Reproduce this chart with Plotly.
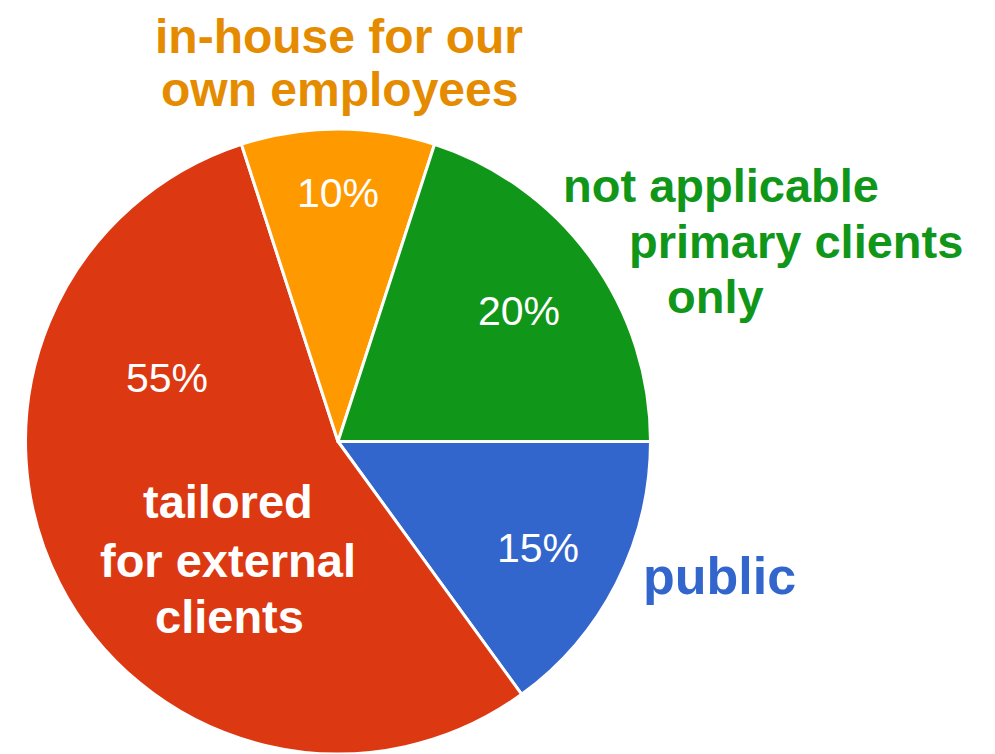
import plotly.graph_objects as go

# Data (clockwise from 3 o'clock)
categories = ["public", "tailored for external clients", "in-house for our own employees",
              "not applicable primary clients only"]
shares = [15, 55, 10, 20]
slice_colors = ["#3366CC", "#DC3912", "#FF9900", "#109618"]

# Label lines shown on the chart
label_lines = {
    "public": ["public"],
    "tailored": ["tailored", "for external", "clients"],
    "inhouse": ["in-house for our", "own employees"],
    "na": ["not applicable", "primary clients", "only"],
}

OFF = 8  # page body margin
W, H = 995 - OFF, 754 - OFF
FONT = "Liberation Sans, Arial, sans-serif"

cx, cy, r = 338 - OFF, 442 - OFF, 313
fig = go.Figure(go.Pie(
    labels=categories,
    values=shares,
    sort=False,
    direction="clockwise",
    rotation=90,
    marker=dict(colors=slice_colors, line=dict(color="white", width=3)),
    textinfo="none",
    hoverinfo="label+percent",
    showlegend=False,
    domain=dict(x=[(cx - r) / W, (cx + r) / W], y=[0, (H - (cy - r)) / H]),
))


def px_ann(text, x, y, size, color, bold=False):
    fig.add_annotation(
        x=(x - OFF) / W, y=1 - (y - OFF) / H, xref="paper", yref="paper",
        xanchor="center", yanchor="middle", showarrow=False,
        borderpad=0,
        text=f"<b>{text}</b>" if bold else text,
        font=dict(family=FONT, size=size, color=color),
    )


# percentage labels (text from data)
pct_pos = [(538, 548), (167, 378), (338, 193), (519, 311)]
total = sum(shares)
for v, (x, y) in zip(shares, pct_pos):
    px_ann(f"{round(100 * v / total)}%", x, y, 41, "white")

# category labels
for t, (x, y) in zip(label_lines["inhouse"], [(339, 36), (339, 90)]):
    px_ann(t, x, y, 48, "#E58B00", bold=True)
for t, (x, y) in zip(label_lines["na"], [(721, 185), (796, 241), (715, 296)]):
    px_ann(t, x, y, 47, "#109618", bold=True)
for t, (x, y) in zip(label_lines["public"], [(719, 576)]):
    px_ann(t, x, y, 52, "#3366CC", bold=True)
for t, (x, y) in zip(label_lines["tailored"], [(228, 501), (228, 560), (229, 616)]):
    px_ann(t, x, y, 47, "white", bold=True)

fig.update_layout(
    width=W, height=H,
    margin=dict(l=0, r=0, t=0, b=0),
    paper_bgcolor="white",
    plot_bgcolor="white",
)

fig.write_html("out.html")
